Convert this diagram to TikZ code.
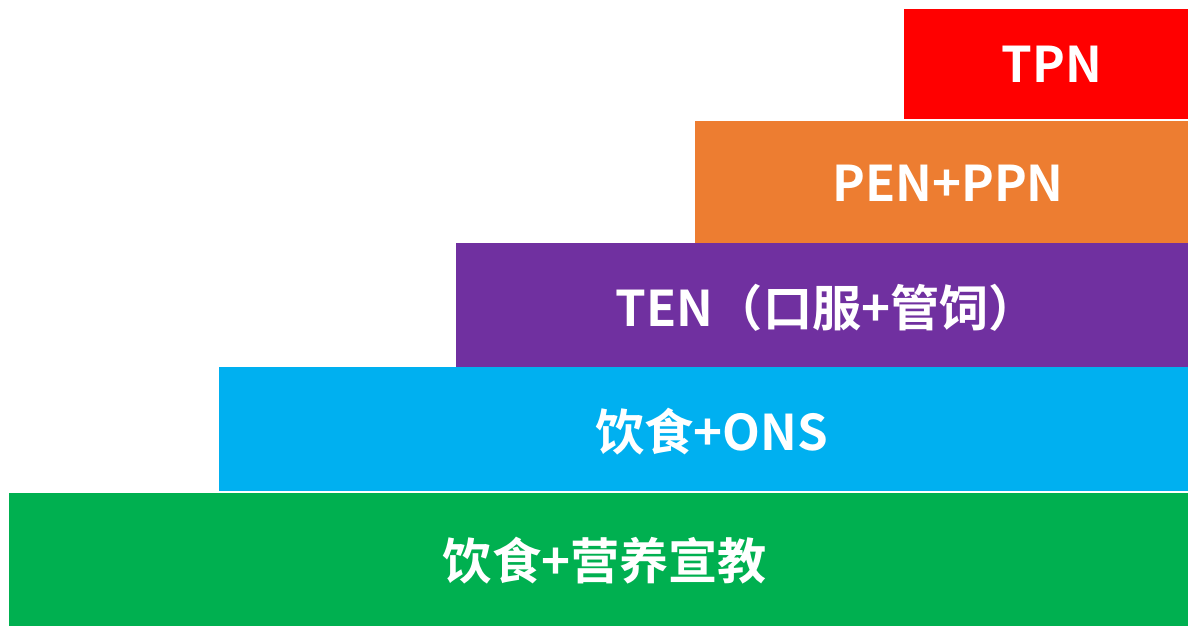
\documentclass[tikz,border=0pt]{standalone}
\usepackage{fontspec}
\setmainfont{Noto Sans CJK SC}[BoldFont={Noto Sans CJK SC Bold}]
\definecolor{cred}{HTML}{FF0000}
\definecolor{corange}{HTML}{ED7D31}
\definecolor{cpurple}{HTML}{7030A0}
\definecolor{ccyan}{HTML}{00B0F0}
\definecolor{cgreen}{HTML}{00B050}
\begin{document}
\begin{tikzpicture}[x=0.02cm,y=-0.02cm,
  lbl/.style={text=white,font=\bfseries\fontsize{28}{32}\selectfont,inner sep=0pt}]
\useasboundingbox (0,0) rectangle (1188,626);
\fill[cred] (904,9) rectangle (1188,119);
\fill[corange] (695,121) rectangle (1188,243);
\fill[cpurple] (456,243) rectangle (1188,367);
\fill[ccyan] (219,367) rectangle (1188,491);
\fill[cgreen] (9,493) rectangle (1188,626);
\node[lbl] (tpn) at (1052,64) {TPN};
\node[lbl] (pen) at (948,183) {PEN+PPN};
\node[lbl] (ten) at (827,308) {TEN（口服+管饲）};
\node[lbl] (ons) at (712,432) {饮食+ONS};
\node[lbl] (edu) at (605,561) {饮食+营养宣教};
\end{tikzpicture}
\end{document}
